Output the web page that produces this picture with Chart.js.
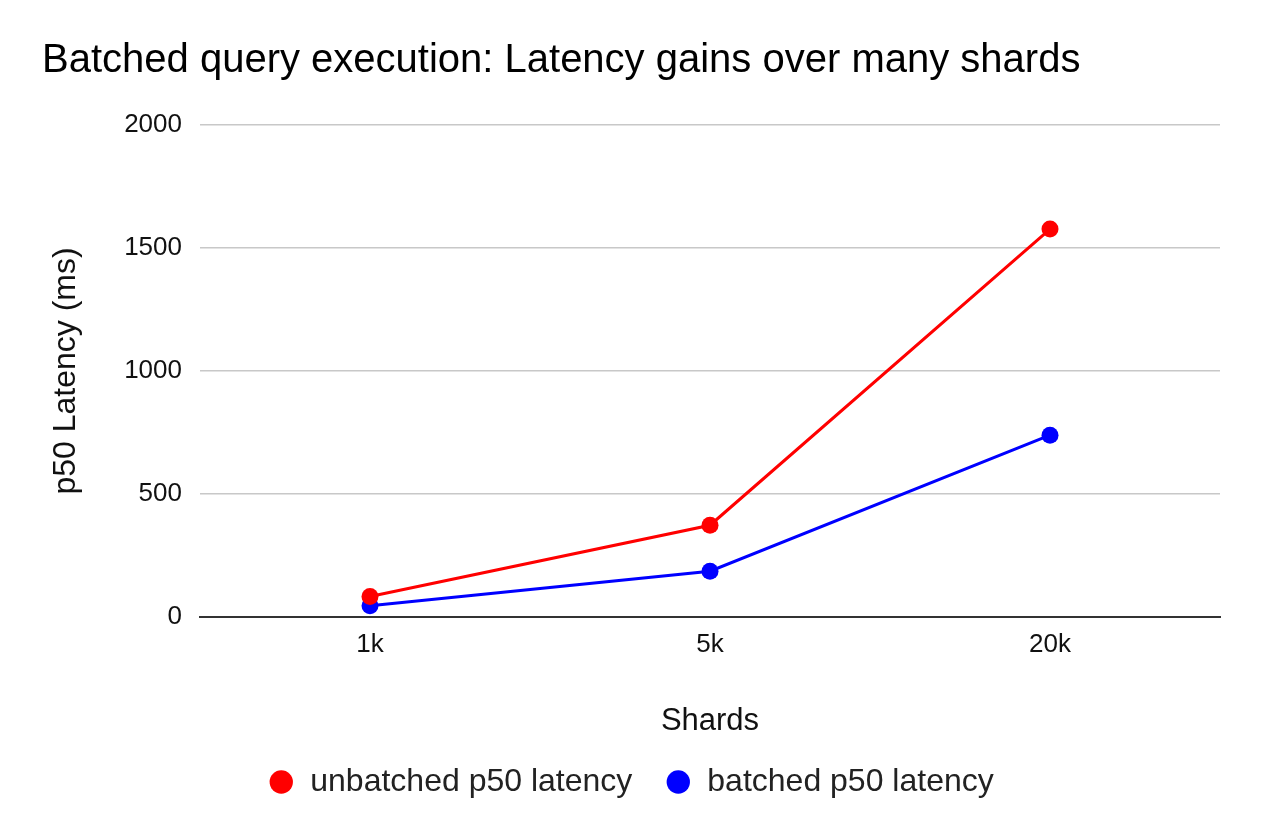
<!DOCTYPE html>
<html>
<head>
<meta charset="utf-8">
<title>Batched query execution</title>
<script src="https://cdn.jsdelivr.net/npm/chart.js@4/dist/chart.umd.min.js"></script>
<style>
    html, body { margin: 0; padding: 0; background: #fff; }
    #wrap { width: 1262px; height: 840px; }
</style>
</head>
<body>
<div id="wrap"><canvas id="latencyChart" width="1262" height="840"></canvas></div>
<script>
// chart data
const shards = ['1k', '5k', '20k'];
const unbatchedLatency = [83, 373, 1577];
const batchedLatency = [46, 186, 739];
const yTicks = [0, 500, 1000, 1500, 2000];

const FONT = '"Liberation Sans", Arial, Helvetica, sans-serif';

document.addEventListener('DOMContentLoaded', function() {
    const ctx = document.getElementById('latencyChart').getContext('2d');

    new Chart(ctx, {
        type: 'line',
        data: {
            labels: shards,
            datasets: [{
                label: 'unbatched p50 latency',
                data: unbatchedLatency,
                borderColor: '#ff0000',
                backgroundColor: '#ff0000',
                borderWidth: 3,
                pointRadius: 8.5,
                pointBorderWidth: 0,
                pointHoverRadius: 8.5,
                tension: 0
            }, {
                label: 'batched p50 latency',
                data: batchedLatency,
                borderColor: '#0000ff',
                backgroundColor: '#0000ff',
                borderWidth: 3,
                pointRadius: 8.5,
                pointBorderWidth: 0,
                pointHoverRadius: 8.5,
                tension: 0
            }]
        },
        options: {
            responsive: false,
            animation: false,
            devicePixelRatio: 1,
            layout: {
                padding: { left: 42, right: 42, top: 0, bottom: 32 }
            },
            plugins: {
                title: {
                    display: true,
                    text: 'Batched query execution: Latency gains over many shards',
                    align: 'start',
                    color: '#000',
                    font: { family: FONT, size: 40, weight: 'normal', lineHeight: 1.2 },
                    padding: { top: 37, bottom: 40 }
                },
                legend: {
                    position: 'bottom',
                    labels: {
                        usePointStyle: true,
                        pointStyle: 'circle',
                        boxWidth: 26,
                        boxHeight: 16.5,
                        padding: 33,
                        color: '#222',
                        font: { family: FONT, size: 32 }
                    }
                },
                tooltip: { enabled: false }
            },
            scales: {
                x: {
                    offset: true,
                    grid: { display: false, drawTicks: false },
                    border: { display: true, color: '#333', width: 2 },
                    ticks: {
                        color: '#111',
                        padding: 12,
                        font: { family: FONT, size: 26 }
                    },
                    title: {
                        display: true,
                        text: 'Shards',
                        color: '#111',
                        font: { family: FONT, size: 31, lineHeight: 1 },
                        padding: { top: 0, bottom: -4 }
                    },
                    afterFit: function(scale) { scale.height = 116; }
                },
                y: {
                    min: 0,
                    max: 2000,
                    afterBuildTicks: function(scale) {
                        scale.ticks = yTicks.map(v => ({ value: v }));
                    },
                    grid: { color: '#c8c8c8', lineWidth: 1.5, drawTicks: false },
                    border: { display: false },
                    ticks: {
                        color: '#111',
                        padding: 18,
                        font: { family: FONT, size: 26 },
                        callback: function(value) { return String(value); }
                    },
                    title: {
                        display: true,
                        text: 'p50 Latency (ms)',
                        color: '#111',
                        font: { family: FONT, size: 32, lineHeight: 1.2 },
                        padding: { top: 5, bottom: 0 }
                    },
                    afterFit: function(scale) { scale.width = 158; }
                }
            }
        }
    });
});
</script>
</body>
</html>
